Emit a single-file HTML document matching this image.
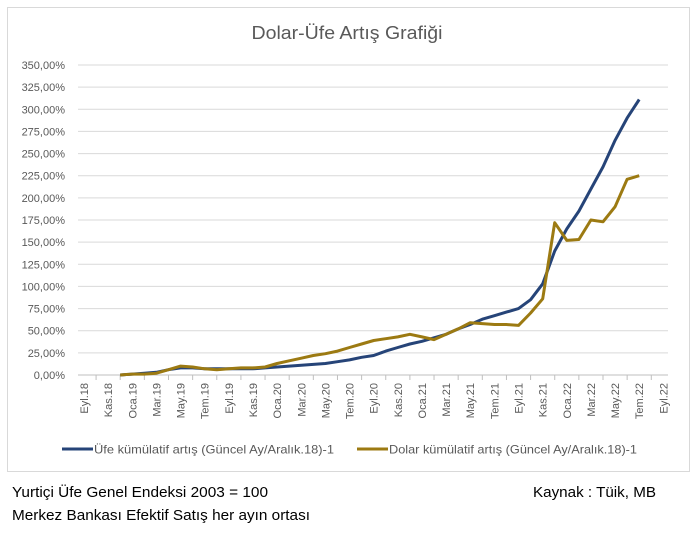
<!DOCTYPE html>
<html><head><meta charset="utf-8"><style>
html,body{margin:0;padding:0;background:#fff;}
svg{display:block;font-family:"Liberation Sans",sans-serif;}
</style></head><body>
<svg id="s" width="696" height="537" xmlns="http://www.w3.org/2000/svg">
<rect x="7.5" y="7.5" width="682" height="464" fill="#fff" stroke="#d9d9d9"/>
<text x="347" y="39" text-anchor="middle" font-size="18" fill="#595959" textLength="191" lengthAdjust="spacingAndGlyphs">Dolar-Üfe Artış Grafiği</text>
<g id="grid"></g>
<g id="lines"></g>
<line x1="62" y1="449" x2="93" y2="449" stroke="#264478" stroke-width="3"/>
<text x="94" y="453.5" font-size="12" fill="#595959" textLength="240" lengthAdjust="spacingAndGlyphs">Üfe kümülatif artış (Güncel Ay/Aralık.18)-1</text>
<line x1="357" y1="449" x2="388" y2="449" stroke="#9c7a12" stroke-width="3"/>
<text x="389" y="453.5" font-size="12" fill="#595959" textLength="248" lengthAdjust="spacingAndGlyphs">Dolar kümülatif artış (Güncel Ay/Aralık.18)-1</text>
<text x="12" y="497" font-size="14.5" fill="#000" textLength="256" lengthAdjust="spacingAndGlyphs">Yurtiçi Üfe Genel Endeksi 2003 = 100</text>
<text x="12" y="520" font-size="14.5" fill="#000" textLength="298" lengthAdjust="spacingAndGlyphs">Merkez Bankası Efektif Satış her ayın ortası</text>
<text x="533" y="497" font-size="14.5" fill="#000" textLength="123" lengthAdjust="spacingAndGlyphs">Kaynak : Tüik, MB</text>
</svg>
<script>
var NS="http://www.w3.org/2000/svg";
function el(t,a,p,txt){var e=document.createElementNS(NS,t);for(var k in a)e.setAttribute(k,a[k]);if(txt!==undefined)e.textContent=txt;p.appendChild(e);return e;}
var g=document.getElementById('grid'),L=document.getElementById('lines');
function Y(v){return 375-v*310/350;}
function X(i){return 84+12.07*i;}
for(var k=0;k<=14;k++){var v=k*25,y=Y(v);
 el('line',{x1:78,x2:668,y1:y,y2:y,stroke:k==0?'#bfbfbf':'#d9d9d9','stroke-width':1},g);
 el('text',{x:65,y:y+4,'text-anchor':'end','font-size':11,fill:'#595959'},g,v.toFixed(2).replace('.',',')+'%');}
var mon=['Eyl','Kas','Oca','Mar','May','Tem'];
for(var j=0;j<=24;j++){var i=j*2,x=X(i);
 if(j<24) el('line',{x1:x+12.07,x2:x+12.07,y1:375,y2:380,stroke:'#bfbfbf'},g);
 var yr=18+Math.floor((i+8)/12);
 var lab=mon[j%6]+'.'+yr;
 el('text',{x:0,y:0,'text-anchor':'end','font-size':11,fill:'#595959',transform:'translate('+(x+4)+',383) rotate(-90)'},g,lab);}
var ufe=[0,1,2,3,6,8,8,7,7,7,7,7,8,9,10,11,12,13,15,17,20,22,27,31,35,38,42,46,52,57,63,67,71,75,85,103,140,165,185,210,235,265,290,311];
var dol=[0,1,1,2,6,10,9,7,6,7,8,8,9,13,16,19,22,24,27,31,35,39,41,43,46,43,40,46,52,59,58,57,57,56,70,86,172,152,153,175,173,190,221,225];
function pts(a){return a.map(function(v,n){return X(n+3).toFixed(1)+','+Y(v).toFixed(1);}).join(' ');}
el('polyline',{points:pts(ufe),fill:'none',stroke:'#264478','stroke-width':3,'stroke-linejoin':'round'},L);
el('polyline',{points:pts(dol),fill:'none',stroke:'#9c7a12','stroke-width':3,'stroke-linejoin':'round'},L);
</script>
</body></html>
